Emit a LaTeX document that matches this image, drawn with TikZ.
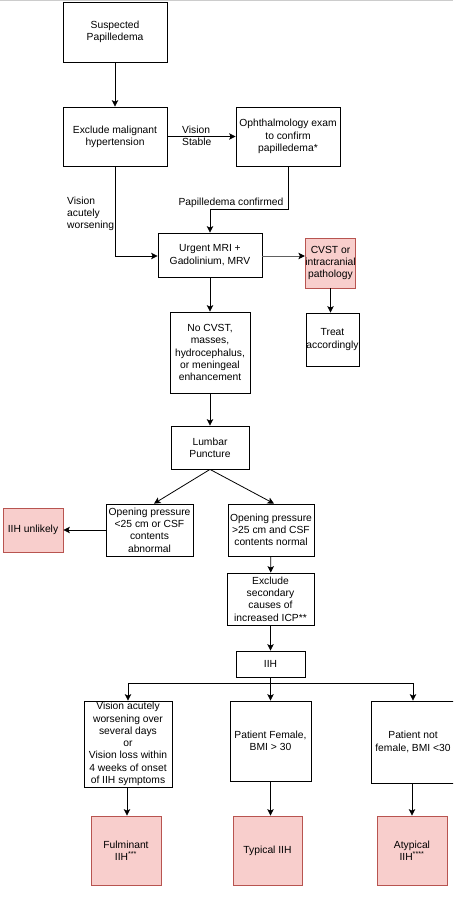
\documentclass[tikz,border=0pt]{standalone}
\usepackage{fontspec}
\setmainfont{Liberation Sans}
\usetikzlibrary{arrows.meta}
\definecolor{pinkfill}{HTML}{F8CECC}
\definecolor{pinkline}{HTML}{B85450}
\begin{document}
\begin{tikzpicture}[x=1pt,y=-1pt,
  font=\fontsize{10.3}{12.3}\selectfont,
  box/.style={draw=black, line width=0.8pt, rectangle, inner sep=0pt, align=center},
  pinkbox/.style={box, fill=pinkfill, draw=pinkline},
  arr/.style={draw=black, line width=0.8pt, -{Stealth[length=6.5pt,width=6.5pt,inset=1.5pt]}},
  lbl/.style={inner sep=0pt, align=left}
]
\clip (0,0) rectangle (453,897);
\fill[white] (0,0) rectangle (453,897);
\draw[gray!40, line width=1pt] (0,0.5) -- (453,0.5);

\node[box, minimum width=104pt, minimum height=60pt] (susp) at (115,32) {Suspected\\Papilledema};
\node[box, minimum width=104pt, minimum height=59pt] (excl) at (115,136.5) {Exclude malignant\\hypertension};
\node[box, minimum width=104pt, minimum height=59pt] (oph) at (288,136.5) {Ophthalmology exam\\to confirm\\papilledema*};
\node[box, minimum width=104pt, minimum height=44pt] (mri) at (210,255) {Urgent MRI +\\Gadolinium, MRV};
\node[pinkbox, minimum width=49pt, minimum height=50pt] (cvst) at (330.5,263) {CVST or\\intracranial\\pathology};
\node[box, minimum width=53pt, minimum height=53pt] (treat) at (332.5,339.5) {Treat\\accordingly};
\node[box, minimum width=80pt, minimum height=81pt] (nocvst) at (210,352.5) {No CVST,\\masses,\\hydrocephalus,\\or meningeal\\enhancement};
\node[box, minimum width=78pt, minimum height=43pt] (lp) at (210,447.5) {Lumbar\\Puncture};
\node[box, minimum width=87pt, minimum height=52pt] (op1) at (149.5,530) {Opening pressure\\<25 cm or CSF\\contents\\abnormal};
\node[box, minimum width=86pt, minimum height=52pt] (op2) at (271,530) {Opening pressure\\>25 cm and CSF\\contents normal};
\node[pinkbox, minimum width=60pt, minimum height=44pt] (unl) at (33,530) {IIH unlikely};
\node[box, minimum width=87pt, minimum height=52pt] (sec) at (270.5,599) {Exclude\\secondary\\causes of\\increased ICP**};
\node[box, minimum width=69pt, minimum height=26pt] (iih) at (270.5,664) {IIH};
\node[box, minimum width=88pt, minimum height=86pt] (vis) at (128,744) {Vision acutely\\worsening over\\several days\\or\\Vision loss within\\4 weeks of onset\\of IIH symptoms};
\node[box, minimum width=81pt, minimum height=80pt] (pf) at (270.5,741) {Patient Female,\\BMI > 30};
\node[box, minimum width=84pt, minimum height=82pt] (pnf) at (413,742) {Patient not\\female, BMI <30};
\node[pinkbox, minimum width=70pt, minimum height=69pt] (ful) at (126,850.5) {Fulminant\\IIH\textsuperscript{***}};
\node[pinkbox, minimum width=69pt, minimum height=69pt] (typ) at (267.5,850.5) {Typical IIH};
\node[pinkbox, minimum width=70pt, minimum height=69pt] (atyp) at (412,850.5) {Atypical\\IIH\textsuperscript{****}};

\coordinate (c1) at (288,209);
\coordinate (c2) at (210,209);
\coordinate (c3) at (115,256);
\coordinate (c4) at (128,683);
\coordinate (c5) at (413,683);
\coordinate (c6) at (270.5,683);

\draw[arr] (susp) -- (excl);
\draw[arr] (excl) -- (oph);
\node[lbl, anchor=west] (lvs) at (182,136) {Vision\\Stable};
\draw[arr] (oph.south) -- (c1) -- (c2) -- (mri.north);
\node[inner sep=0pt, anchor=south] (lpc) at (231,207.5) {Papilledema confirmed};
\draw[arr] (excl.south) -- (c3) -- (mri.west |- c3);
\node[lbl, anchor=west] (lvw) at (67,214) {Vision\\acutely\\worsening};
\draw[line width=0.8pt, draw=gray!75!black, -{Stealth[length=6.5pt,width=6.5pt,inset=1.5pt,color=black,fill=black]}] (mri.east |- c3) -- (cvst.west |- c3);
\draw[arr] (cvst.south) -- (cvst.south |- treat.north);
\draw[arr] (mri) -- (nocvst);
\draw[arr] (nocvst) -- (lp);
\draw[arr] (lp.south) -- (op1.north -| 154,0);
\draw[arr] (lp.south) -- (op2.north -| 274,0);
\draw[arr] (op1) -- (unl);
\draw[arr] (op2) -- (sec);
\draw[arr] (sec) -- (iih);
\draw[line width=0.8pt] (iih.south) -- (c6);
\draw[line width=0.8pt] (c4) -- (c5);
\draw[arr] (c4) -- (vis.north);
\draw[arr] (c6) -- (c6 |- pf.north);
\draw[arr] (c5) -- (pnf.north);
\draw[arr] (vis.south -| 127,0) -- (ful.north -| 127,0);
\draw[arr] (pf.south) -- (pf.south |- typ.north);
\draw[arr] (pnf.south -| 412,0) -- (atyp.north);
\end{tikzpicture}
\end{document}
